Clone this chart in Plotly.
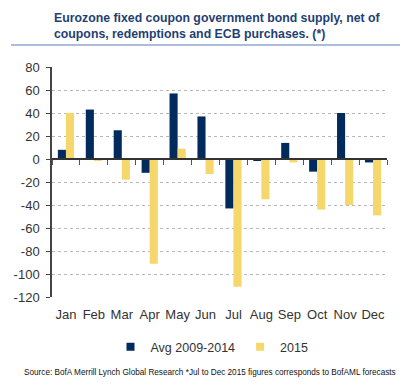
import plotly.graph_objects as go

months = ["Jan", "Feb", "Mar", "Apr", "May", "Jun", "Jul", "Aug", "Sep", "Oct", "Nov", "Dec"]
avg_2009_2014 = [8, 43, 25, -12, 57, 37, -43, -1, 14, -11, 40, -3]
y2015 = [40, -1, -18, -91, 9, -13, -111, -35, -3, -44, -40, -49]
y_ticks = [80, 60, 40, 20, 0, -20, -40, -60, -80, -100, -120]
series_names = ["Avg 2009-2014", "2015"]

NAVY = "#012b5d"
YELLOW = "#f5d76b"
TXT = "#333333"
FONT = "Liberation Sans, Arial, sans-serif"

fig = go.Figure()
fig.add_trace(go.Bar(x=months, y=avg_2009_2014, name=series_names[0], showlegend=False,
                     marker=dict(color=NAVY, line=dict(width=0))))
fig.add_trace(go.Bar(x=months, y=y2015, name=series_names[1], showlegend=False,
                     marker=dict(color=YELLOW, line=dict(width=0))))
# legend entries with small square markers
for nm, col in zip(series_names, [NAVY, YELLOW]):
    fig.add_trace(go.Scatter(x=[None], y=[None], mode="markers", name=nm,
                             marker=dict(symbol="square", size=8, color=col)))
# invisible trace to drive the tick-mark axis at zero
fig.add_trace(go.Scatter(x=months, y=[0]*len(months), xaxis="x2", mode="lines",
                         line=dict(width=0), showlegend=False, hoverinfo="skip"))

W, H = 407, 390
ml, mr, mt, mb = 52, 20, 67, 93
ymin, ymax = -120, 80
PH = H - mt - mb
PW = W - ml - mr

fig.update_layout(
    width=W, height=H,
    margin=dict(l=ml, r=mr, t=mt, b=mb),
    paper_bgcolor="white", plot_bgcolor="white",
    barmode="group", bargap=0.42, bargroupgap=0,
    font=dict(family=FONT, color=TXT, size=13),
    showlegend=True,
    legend=dict(orientation="h", x=(212 - ml) / PW, xanchor="center", y=-(347 - (H - mb)) / PH,
                yanchor="middle", font=dict(size=12.5, color=TXT), itemwidth=30,
                traceorder="normal"),
    xaxis=dict(type="category", categoryorder="array", categoryarray=months,
               showline=False, ticks="", showgrid=False, ticklabelstandoff=8,
               tickfont=dict(size=13, color=TXT)),
    xaxis2=dict(type="category", categoryorder="array", categoryarray=months,
                overlaying="x", matches="x", anchor="free",
                position=(0 - ymin) / (ymax - ymin),
                showline=True, linecolor="#333333", linewidth=1.5,
                ticks="outside", tickson="boundaries", ticklen=5, tickcolor="#555555",
                tickwidth=1.2, showticklabels=False, showgrid=False),
    yaxis=dict(range=[ymin, ymax], tickvals=y_ticks, ticktext=[str(v) for v in y_ticks],
               showline=True, linecolor="#444444", linewidth=1.5,
               ticks="outside", ticklen=4, tickcolor="#444444", ticklabelstandoff=4,
               showgrid=True, gridcolor="#b8b8b8", griddash="dot", gridwidth=1,
               zeroline=False, tickfont=dict(size=13, color=TXT)),
)

fig.add_annotation(
    text="<b>Eurozone fixed coupon government bond supply, net of<br>coupons, redemptions and ECB purchases. (*)</b>",
    xref="paper", yref="paper", x=0, xanchor="left",
    y=1 + (mt - 9) / PH, yanchor="top", align="left", showarrow=False,
    font=dict(family=FONT, size=12.3, color="#1f3f73"),
)
fig.add_shape(type="line", xref="paper", yref="paper",
              x0=(11 - ml) / PW, x1=(400 - ml) / PW,
              y0=1 + (mt - 45) / PH, y1=1 + (mt - 45) / PH,
              line=dict(color="#5b7db5", width=1.2))
fig.add_annotation(
    text="Source: BofA Merrill Lynch Global Research *Jul to Dec 2015 figures corresponds to BofAML forecasts",
    xref="paper", yref="paper", x=(210 - ml) / PW, xanchor="center",
    y=-(373 - (H - mb)) / PH, yanchor="middle", showarrow=False,
    font=dict(family=FONT, size=8.2, color="#111111"),
)

fig.write_html("out.html", config={"displayModeBar": False},
               post_script="document.body.style.margin='0';document.body.style.padding='0';")
